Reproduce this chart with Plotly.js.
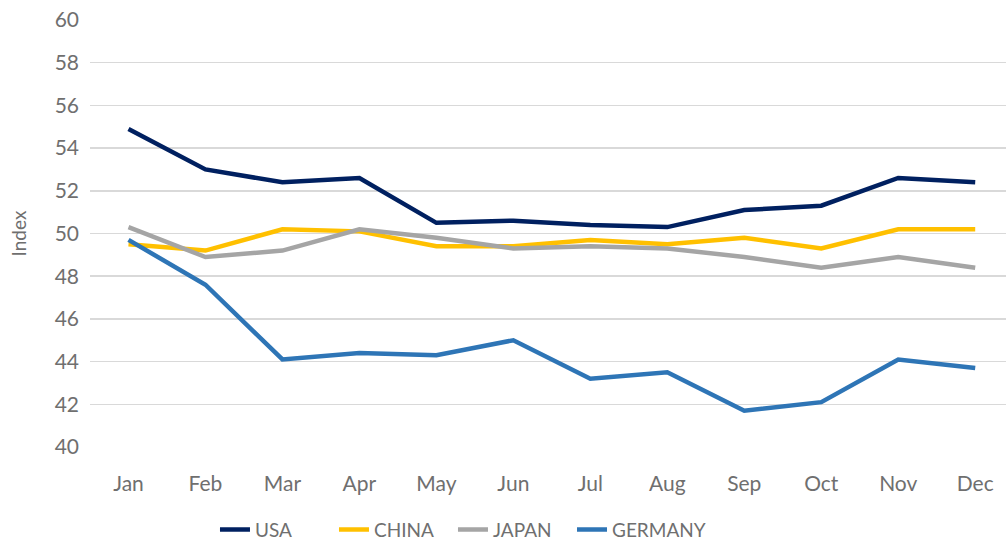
<!DOCTYPE html>
<html>
<head>
<meta charset="utf-8">
<script src="https://cdn.plot.ly/plotly-3.0.1.min.js"></script>
<style>html,body{margin:0;padding:0;background:#fff;}#chart{width:1006px;height:545px;}</style>
</head>
<body>
<div id="chart"></div>
<script>
const months = ["Jan","Feb","Mar","Apr","May","Jun","Jul","Aug","Sep","Oct","Nov","Dec"];
const usa = [54.9, 53.0, 52.4, 52.6, 50.5, 50.6, 50.4, 50.3, 51.1, 51.3, 52.6, 52.4];
const china = [49.5, 49.2, 50.2, 50.1, 49.4, 49.4, 49.7, 49.5, 49.8, 49.3, 50.2, 50.2];
const japan = [50.3, 48.9, 49.2, 50.2, 49.8, 49.3, 49.4, 49.3, 48.9, 48.4, 48.9, 48.4];
const germany = [49.7, 47.6, 44.1, 44.4, 44.3, 45.0, 43.2, 43.5, 41.7, 42.1, 44.1, 43.7];
const yTicks = [40,42,44,46,48,50,52,54,56,58,60];

const series = [
  {name: "USA", y: usa, color: "#002060", legend: "legend"},
  {name: "CHINA", y: china, color: "#FFC000", legend: "legend"},
  {name: "JAPAN", y: japan, color: "#A5A5A5", legend: "legend"},
  {name: "GERMANY", y: germany, color: "#2E75B6", legend: "legend2"}
];
const idx = months.map((m, i) => i);
const traces = series.map(s => ({
  type: "scatter", mode: "lines", name: s.name, legend: s.legend,
  x: idx, y: s.y,
  line: {color: s.color, width: 4.5}
}));
const font = "Lato, 'Open Sans', sans-serif";
const legendFont = {size: 19, color: "#6f6f6f"};
const layout = {
  width: 1006, height: 545,
  margin: {l: 90, r: 0, t: 20, b: 98, autoexpand: false},
  paper_bgcolor: "#fff", plot_bgcolor: "#fff",
  font: {family: font, color: "#6f6f6f"},
  showlegend: true,
  legend: {orientation: "h", x: 0.2137, xanchor: "left", xref: "container",
           y: 0.028, yanchor: "middle", yref: "container",
           entrywidth: 74, entrywidthmode: "pixels",
           font: legendFont, tracegroupgap: 0},
  legend2: {orientation: "h", x: 0.5686, xanchor: "left", xref: "container",
           y: 0.028, yanchor: "middle", yref: "container",
           font: legendFont, tracegroupgap: 0},
  xaxis: {
    range: [-0.5, 11.4], tickvals: idx, ticktext: months,
    showgrid: false, zeroline: false, showline: false, ticks: "",
    ticklabelstandoff: 22,
    tickfont: {size: 21, color: "#6f6f6f"}, fixedrange: true
  },
  yaxis: {
    range: [40, 60], tickvals: yTicks,
    showgrid: true, gridcolor: "#d9d9d9", gridwidth: 1.5,
    zeroline: false, showline: false, ticks: "", ticklabelstandoff: 10,
    tickfont: {size: 21, color: "#6f6f6f"},
    title: {text: "Index", font: {size: 19, color: "#6f6f6f"}, standoff: 22}
  }
};
Plotly.newPlot("chart", traces, layout, {displayModeBar: false, staticPlot: true});
</script>
</body>
</html>
